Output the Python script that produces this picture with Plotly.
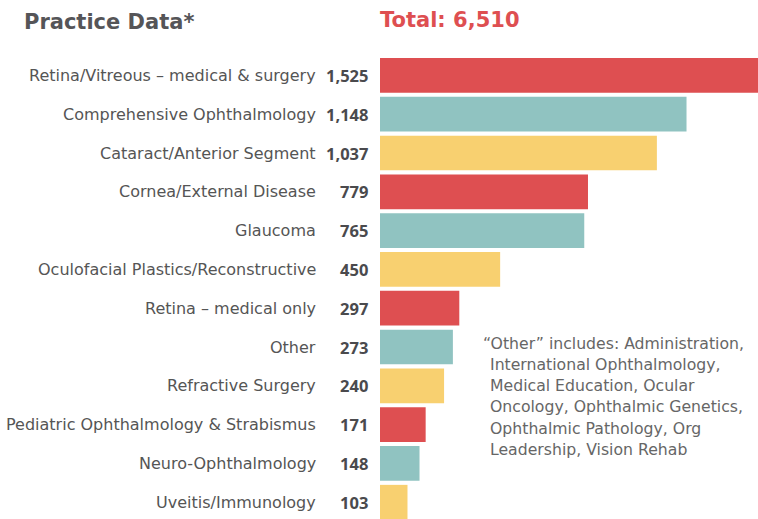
import plotly.graph_objects as go

categories = [
    "Retina/Vitreous – medical & surgery",
    "Comprehensive Ophthalmology",
    "Cataract/Anterior Segment",
    "Cornea/External Disease",
    "Glaucoma",
    "Oculofacial Plastics/Reconstructive",
    "Retina – medical only",
    "Other",
    "Refractive Surgery",
    "Pediatric Ophthalmology & Strabismus",
    "Neuro-Ophthalmology",
    "Uveitis/Immunology",
]
values = [1525, 1148, 1037, 779, 765, 450, 297, 273, 240, 171, 148, 103]
palette = ["#DE4F51", "#90C3C1", "#F8D070"]
colors = [palette[i % 3] for i in range(len(values))]

title_text = "Practice Data*"
total_text = "Total: 6,510"
note_lines = [
    "“Other” includes: Administration,",
    "International Ophthalmology,",
    "Medical Education, Ocular",
    "Oncology, Ophthalmic Genetics,",
    "Ophthalmic Pathology, Org",
    "Leadership, Vision Rehab",
]

W, H = 758, 519
ML, MT = 380, 56
PW, PH = W - ML, H - MT
PITCH = 38.8
FONT = "DejaVu Sans, Noto Sans, sans-serif"
VFONT = "Noto Sans, Open Sans, sans-serif"

fig = go.Figure(go.Bar(
    x=values, y=categories, orientation="h",
    marker=dict(color=colors, line=dict(width=0)),
    hoverinfo="skip",
))

annotations = []
for c, v in zip(categories, values):
    annotations.append(dict(
        x=(318 - ML) / PW, xref="paper", y=c, yref="y",
        text=c, showarrow=False, xanchor="right", yanchor="middle",
        font=dict(family=FONT, size=16, color="#555555"),
    ))
    annotations.append(dict(
        x=(370 - ML) / PW, xref="paper", y=c, yref="y",
        text="<b>" + f"{v:,}" + "</b>", showarrow=False, xanchor="right", yanchor="middle",
        font=dict(family=VFONT, size=16.5, color="#4a4a4d"),
    ))

def py(p):
    return 1 - (p - MT) / PH

def px(p):
    return (p - ML) / PW

annotations.append(dict(
    x=px(22), y=py(22), xref="paper", yref="paper", text="<b>" + title_text + "</b>",
    showarrow=False, xanchor="left", yanchor="middle",
    font=dict(family=FONT, size=21, color="#555558"),
))
annotations.append(dict(
    x=px(378), y=py(20), xref="paper", yref="paper", text="<b>" + total_text + "</b>",
    showarrow=False, xanchor="left", yanchor="middle",
    font=dict(family=FONT, size=21, color="#DE4F51"),
))
line_y = [343, 364, 385, 406, 428, 449]
for i, (t, yy) in enumerate(zip(note_lines, line_y)):
    annotations.append(dict(
        x=px(481 if i == 0 else 488), y=py(yy), xref="paper", yref="paper", text=t,
        showarrow=False, xanchor="left", yanchor="middle",
        font=dict(family=FONT, size=15.7, color="#666666"),
    ))

fig.update_layout(
    width=W, height=H,
    margin=dict(l=ML, r=0, t=MT, b=0, pad=0),
    paper_bgcolor="white", plot_bgcolor="white",
    bargap=0.106,
    showlegend=False,
    xaxis=dict(range=[0, 378 / 0.267], visible=False, fixedrange=True),
    yaxis=dict(range=[-0.5 + PH / PITCH, -0.5], showticklabels=False, showgrid=False,
               zeroline=False, showline=False, ticks="", fixedrange=True),
    annotations=annotations,
)

fig.write_html("out.html", config={"displayModeBar": False},
               post_script="document.body.style.margin='0';document.body.style.padding='0';")
